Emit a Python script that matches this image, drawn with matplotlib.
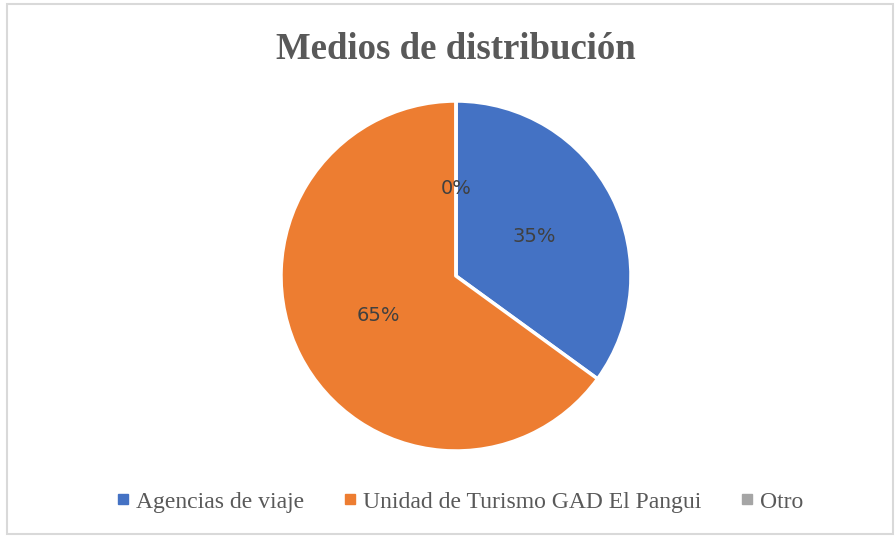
import matplotlib.pyplot as plt
from matplotlib.lines import Line2D
from matplotlib.patches import Rectangle

# Data
categories = ["Agencias de viaje", "Unidad de Turismo GAD El Pangui", "Otro"]
shares = [35, 65, 0]
colors = ["#4472C4", "#ED7D31", "#A5A5A5"]

W, H = 896, 536
fig = plt.figure(figsize=(W / 100, H / 100), dpi=100)

# Light grey chart border
fig.patches.append(Rectangle((7 / W, 2 / H), 886 / W, 530 / H, transform=fig.transFigure,
                             fill=False, edgecolor="#D9D9D9", linewidth=1.5))

# Pie axes: center ~ (456, 276), radius ~175 px
cx, cy, r = 456, 276, 175
ax = fig.add_axes([(cx - r) / W, (H - cy - r) / H, 2 * r / W, 2 * r / H])
wedges, texts, autotexts = ax.pie(
    shares,
    colors=colors,
    startangle=90,
    counterclock=False,
    autopct=lambda p: f"{p:.0f}%",
    pctdistance=0.5,
    wedgeprops=dict(edgecolor="white", linewidth=2.5),
    textprops=dict(color="#404040", fontsize=14, family="DejaVu Sans"),
)
ax.set_xlim(-1, 1)
ax.set_ylim(-1, 1)
ax.set_aspect("equal")
ax.axis("off")

fig.text(cx / W, 1 - 59 / H, "Medios de distribución", ha="center", va="baseline",
         fontsize=26.5, fontweight="bold", family="Liberation Serif", color="#595959")

handles = [Line2D([], [], marker="s", linestyle="none", markersize=6.5,
                  markerfacecolor=c, markeredgecolor=c) for c in colors]
fig.legend(handles, categories, loc="center", bbox_to_anchor=(459 / W, 1 - 502 / H),
           ncol=3, frameon=False, handlelength=0.7, handletextpad=0.2, columnspacing=1.6,
           prop=dict(family="Liberation Serif", size=17), labelcolor="#595959")

fig.savefig("out.png", dpi=100)
